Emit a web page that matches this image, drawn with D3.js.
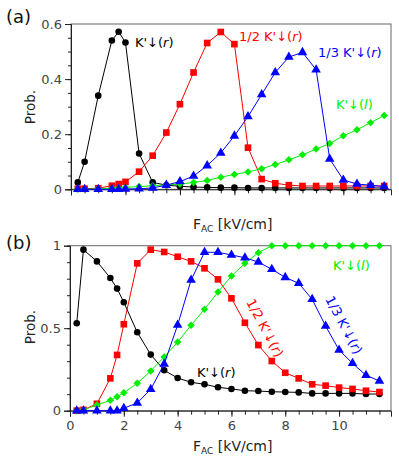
<!DOCTYPE html>
<html>
<head>
<meta charset="utf-8">
<script src="https://cdn.jsdelivr.net/npm/d3@7"></script>
<style>
  html, body { margin: 0; padding: 0; background: #fff; }
  svg { display: block; font-family: "DejaVu Sans", sans-serif; }
</style>
</head>
<body>
<svg id="chart" width="399" height="461"></svg>
<script>
// ---------------- DATA ----------------
const fieldValues = [0.25, 0.5, 1.0, 1.5, 1.75, 2.0, 2.5, 3.0, 3.5, 4.0, 4.5, 5.0, 5.5, 6.0, 6.5, 7.0, 7.5, 8.0, 8.5, 9.0, 9.5, 10.0, 10.5, 11.0, 11.5];

// panel (a)
const aKr   = [0.025, 0.10, 0.34, 0.54, 0.572, 0.533, 0.13, 0.025, 0.015, 0.011, 0.008, 0.007, 0.006, 0.006, 0.005, 0.005, 0.005, 0.005, 0.005, 0.005, 0.005, 0.005, 0.005, 0.005, 0.005];
const aHalf = [0.002, 0.002, 0.004, 0.013, 0.019, 0.027, 0.064, 0.122, 0.206, 0.309, 0.424, 0.531, 0.571, 0.527, 0.151, 0.037, 0.022, 0.015, 0.012, 0.012, 0.012, 0.012, 0.012, 0.012, 0.012];
const aThird= [0, 0, 0, 0, 0, 0.001, 0.002, 0.005, 0.015, 0.028, 0.048, 0.086, 0.132, 0.194, 0.264, 0.344, 0.424, 0.48, 0.497, 0.434, 0.11, 0.034, 0.019, 0.015, 0.01];
const aKl   = [0, 0, 0.002, 0.004, 0.005, 0.007, 0.01, 0.013, 0.016, 0.019, 0.025, 0.032, 0.044, 0.054, 0.063, 0.075, 0.09, 0.107, 0.125, 0.146, 0.166, 0.194, 0.216, 0.242, 0.268];

// panel (b)
const bKr   = [0.53, 0.976, 0.905, 0.804, 0.74, 0.657, 0.475, 0.34, 0.245, 0.198, 0.172, 0.16, 0.142, 0.132, 0.121, 0.119, 0.115, 0.113, 0.111, 0.105, 0.105, 0.105, 0.105, 0.101, 0.101];
const bHalf = [0, 0.005, 0.042, 0.196, 0.338, 0.524, 0.893, 0.976, 0.962, 0.933, 0.905, 0.863, 0.796, 0.681, 0.533, 0.398, 0.301, 0.23, 0.196, 0.16, 0.152, 0.14, 0.132, 0.121, 0.113];
const bThird= [0, 0, 0, 0, 0, 0.015, 0.047, 0.13, 0.283, 0.519, 0.792, 0.96, 0.96, 0.944, 0.927, 0.901, 0.857, 0.808, 0.772, 0.675, 0.513, 0.368, 0.287, 0.215, 0.18];
const bKl   = [0, 0.005, 0.035, 0.063, 0.085, 0.109, 0.166, 0.241, 0.325, 0.416, 0.518, 0.615, 0.719, 0.816, 0.893, 0.958, 1, 1, 1, 1, 1, 1, 1, 1, 1];

const xMajorTicks = [0, 2, 4, 6, 8, 10];
const xMinorTicks = d3.range(0, 11.75, 0.5);
const aYMajorTicks = [0, 0.2, 0.4, 0.6];
const aYMinorTicks = d3.range(0, 0.6001, 0.05);
const bYMajorTicks = [0, 0.5, 1];
const bYMinorTicks = d3.range(0, 1.0001, 0.1);

// ---------------- DRAW ----------------
const svg = d3.select("#chart");
const tickFmt = d => d === 0 ? "0" : String(+d.toFixed(2));

const panels = [
  { label: "(a)", xDomain: [0, 11.75], xRange: [71, 391], yDomain: [0, 0.6], yRange: [189.3, 24],
    yMajor: aYMajorTicks, yMinor: aYMinorTicks, xLabels: false, labelY: 17, ylabY: 107, xTitleY: 229,
    series: [
      { vals: aKr, color: "#000000", shape: "circle" },
      { vals: aHalf, color: "#ff0000", shape: "square" },
      { vals: aKl, color: "#00ee00", shape: "diamond" },
      { vals: aThird, color: "#0000ff", shape: "triangle" }
    ] },
  { label: "(b)", xDomain: [0, 11.93], xRange: [70, 391], yDomain: [0, 1], yRange: [410.7, 245.7],
    yMajor: bYMajorTicks, yMinor: bYMinorTicks, xLabels: true, labelY: 243, ylabY: 327, xTitleY: 451,
    series: [
      { vals: bKr, color: "#000000", shape: "circle" },
      { vals: bHalf, color: "#ff0000", shape: "square" },
      { vals: bKl, color: "#00ee00", shape: "diamond" },
      { vals: bThird, color: "#0000ff", shape: "triangle" }
    ] }
];

const symbolFor = {
  circle: d3.symbol().type(d3.symbolCircle).size(34),
  square: d3.symbol().type(d3.symbolSquare).size(44),
  triangle: d3.symbol().type(d3.symbolTriangle).size(40),
  diamond: d3.symbol().type(d3.symbolSquare).size(28)
};

panels.forEach(p => {
  const x = d3.scaleLinear().domain(p.xDomain).range(p.xRange);
  const y = d3.scaleLinear().domain(p.yDomain).range(p.yRange);
  const g = svg.append("g");

  // frame
  g.append("rect")
    .attr("x", p.xRange[0]).attr("y", p.yRange[1])
    .attr("width", p.xRange[1] - p.xRange[0]).attr("height", p.yRange[0] - p.yRange[1])
    .attr("fill", "none").attr("stroke", "#666").attr("stroke-width", 1);

  // x axis
  const xMinorAx = d3.axisBottom(x).tickValues(xMinorTicks).tickSize(4).tickFormat("");
  const xMajorAx = d3.axisBottom(x).tickValues(xMajorTicks).tickSize(6).tickPadding(4)
      .tickFormat(p.xLabels ? (d => String(d)) : "");
  const gxm = g.append("g").attr("transform", `translate(0,${p.yRange[0]})`).call(xMinorAx);
  const gx = g.append("g").attr("transform", `translate(0,${p.yRange[0]})`).call(xMajorAx);
  gxm.select(".domain").remove();
  // y axis
  const yMinorAx = d3.axisLeft(y).tickValues(p.yMinor).tickSize(3).tickFormat("");
  const yMajorAx = d3.axisLeft(y).tickValues(p.yMajor).tickSize(6).tickPadding(3).tickFormat(tickFmt);
  const gym = g.append("g").attr("transform", `translate(${p.xRange[0]},0)`).call(yMinorAx);
  const gy = g.append("g").attr("transform", `translate(${p.xRange[0]},0)`).call(yMajorAx);
  gym.select(".domain").remove();

  [gx, gy, gxm, gym].forEach(a => {
    a.select(".domain").attr("stroke", "#222");
    a.selectAll(".tick line").attr("stroke", "#222");
    a.selectAll("text").attr("font-size", 13).attr("fill", "#444")
      .attr("font-family", "DejaVu Sans, sans-serif");
  });

  // series
  const line = d3.line().x((d, i) => x(fieldValues[i])).y(d => y(d));
  p.series.forEach(s => {
    g.append("path").datum(s.vals)
      .attr("d", line).attr("fill", "none")
      .attr("stroke", s.color).attr("stroke-width", 1);
    g.selectAll(null).data(s.vals).enter().append("path")
      .attr("d", symbolFor[s.shape])
      .attr("transform", (d, i) => `translate(${x(fieldValues[i])},${y(d)})` + (s.shape === "diamond" ? " rotate(45)" : ""))
      .attr("fill", s.color);
  });

  // panel label
  svg.append("text").attr("x", 6).attr("y", p.labelY).attr("dy", "0.35em")
    .attr("font-size", 18).attr("fill", "#111").text(p.label);
  // y title
  svg.append("text").attr("transform", `translate(30,${p.ylabY}) rotate(-90)`)
    .attr("text-anchor", "middle").attr("dy", "0.35em")
    .attr("font-size", 13.5).attr("fill", "#222").text("Prob.");
  // x title
  const xt = svg.append("text").attr("x", 193).attr("y", p.xTitleY)
    .attr("font-size", 14).attr("fill", "#222");
  xt.append("tspan").text("F");
  xt.append("tspan").attr("font-size", 9).attr("dy", 3).text("AC");
  xt.append("tspan").attr("dy", -3).text(" [kV/cm]");
});

// series annotations
function seriesLabel(xp, yp, prefix, letter, color, rot) {
  const t = svg.append("text").attr("font-size", 13).attr("fill", color);
  if (rot) {
    t.attr("transform", `translate(${xp},${yp}) rotate(${rot})`).attr("text-anchor", "middle").attr("dy", "0.35em");
  } else {
    t.attr("x", xp).attr("y", yp);
  }
  t.append("tspan").text(prefix + "K'\u2193(");
  t.append("tspan").attr("font-style", "italic").text(letter);
  t.append("tspan").text(")");
}
seriesLabel(135, 47, "", "r", "#000000");
seriesLabel(239, 41, "1/2 ", "r", "#ff0000");
seriesLabel(318, 57, "1/3 ", "r", "#0000ff");
seriesLabel(336, 109, "", "l", "#00ee00");
seriesLabel(333, 270, "", "l", "#00ee00");
seriesLabel(197, 377, "", "r", "#000000");
seriesLabel(265, 328, "1/2 ", "r", "#ff0000", 62);
seriesLabel(344, 325, "1/3 ", "r", "#0000ff", 62);
</script>
</body>
</html>
